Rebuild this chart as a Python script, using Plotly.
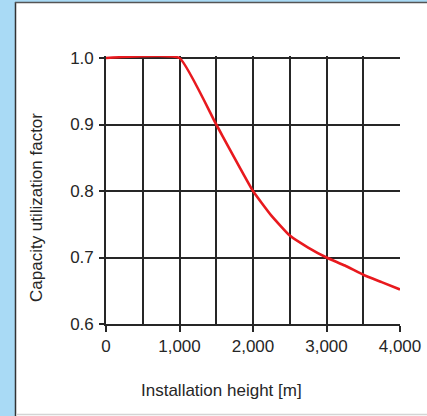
import plotly.graph_objects as go

# installation height [m] vs capacity utilization factor
height_m = [0, 1000, 1500, 2000, 2250, 2500, 2750, 3000, 3250, 3500, 3750, 4000]
capacity = [1.0, 1.0, 0.9, 0.8, 0.763, 0.733, 0.715, 0.700, 0.688, 0.674, 0.663, 0.652]

x_ticks = [0, 1000, 2000, 3000, 4000]
x_labels = ["0", "1,000", "2,000", "3,000", "4,000"]
y_ticks = [0.6, 0.7, 0.8, 0.9, 1.0]
y_labels = ["0.6", "0.7", "0.8", "0.9", "1.0"]

W, H = 427, 416
L, R, T, B = 106, 400, 56, 324   # plot area in pixels


def px(x):
    return (x - L) / (R - L)


def py(y):
    return (B - y) / (B - T)


font = "Liberation Sans, Arial, Helvetica, sans-serif"
ink = "#262626"

fig = go.Figure()
fig.add_trace(go.Scatter(
    x=height_m,
    y=capacity,
    mode="lines",
    line=dict(color="#e8191e", width=2.6, shape="spline", smoothing=0.35),
    showlegend=False,
    hoverinfo="skip",
))

fig.update_xaxes(
    range=[0, 4000],
    tickvals=x_ticks,
    ticktext=x_labels,
    showgrid=True,
    gridcolor=ink,
    gridwidth=1.5,
    minor=dict(dtick=500, tick0=0, showgrid=True, gridcolor=ink, gridwidth=1.5),
    showline=True,
    linecolor=ink,
    linewidth=1.6,
    ticks="outside",
    ticklen=6,
    tickwidth=1.6,
    tickcolor=ink,
    tickfont=dict(family=font, size=17, color=ink),
    zeroline=False,
    automargin=False,
    fixedrange=True,
)
fig.update_yaxes(
    range=[0.6, 1.003],
    tickvals=y_ticks,
    ticktext=y_labels,
    showgrid=True,
    gridcolor=ink,
    gridwidth=1.5,
    showline=True,
    linecolor=ink,
    linewidth=1.6,
    ticks="outside",
    ticklen=5,
    tickwidth=1.6,
    tickcolor=ink,
    ticklabelstandoff=2,
    tickfont=dict(family=font, size=17, color=ink),
    zeroline=False,
    automargin=False,
    fixedrange=True,
)

shapes = [
    # light blue band on the left and top
    dict(type="rect", xref="paper", yref="paper", x0=px(0), x1=px(15), y0=py(H), y1=py(0),
         fillcolor="#a9daf5", line_width=0, layer="below"),
    dict(type="rect", xref="paper", yref="paper", x0=px(15), x1=px(W), y0=py(2), y1=py(0),
         fillcolor="#a9daf5", line_width=0, layer="below"),
    # frame lines
    dict(type="line", xref="paper", yref="paper", x0=px(15.5), x1=px(15.5), y0=py(2), y1=py(H),
         line=dict(color="#333333", width=1.5), layer="below"),
    dict(type="line", xref="paper", yref="paper", x0=px(15), x1=px(W), y0=py(2.5), y1=py(2.5),
         line=dict(color="#555555", width=1.5), layer="below"),
    dict(type="line", xref="paper", yref="paper", x0=px(16), x1=px(W), y0=py(414.5), y1=py(414.5),
         line=dict(color="#d4d4d4", width=1.5), layer="below"),
]

annotations = [
    dict(text="Installation height [m]", xref="paper", yref="paper",
         x=px(221), y=py(390), showarrow=False, xanchor="center", yanchor="middle",
         font=dict(family=font, size=17, color=ink)),
    dict(text="Capacity utilization factor", xref="paper", yref="paper",
         x=px(36), y=py(208), showarrow=False, xanchor="center", yanchor="middle",
         textangle=-90, font=dict(family=font, size=17, color=ink)),
]

fig.update_layout(
    width=W,
    height=H,
    margin=dict(l=L, r=W - R, t=T, b=H - B, pad=0, autoexpand=False),
    paper_bgcolor="white",
    plot_bgcolor="rgba(0,0,0,0)",
    shapes=shapes,
    annotations=annotations,
    showlegend=False,
)

# the page body has a default 8px margin; drop it so the figure sits at the window corner
fig.write_html(
    "out.html",
    config={"displayModeBar": False},
    post_script="document.body.style.margin = '0'; document.body.style.overflow = 'hidden';",
)
